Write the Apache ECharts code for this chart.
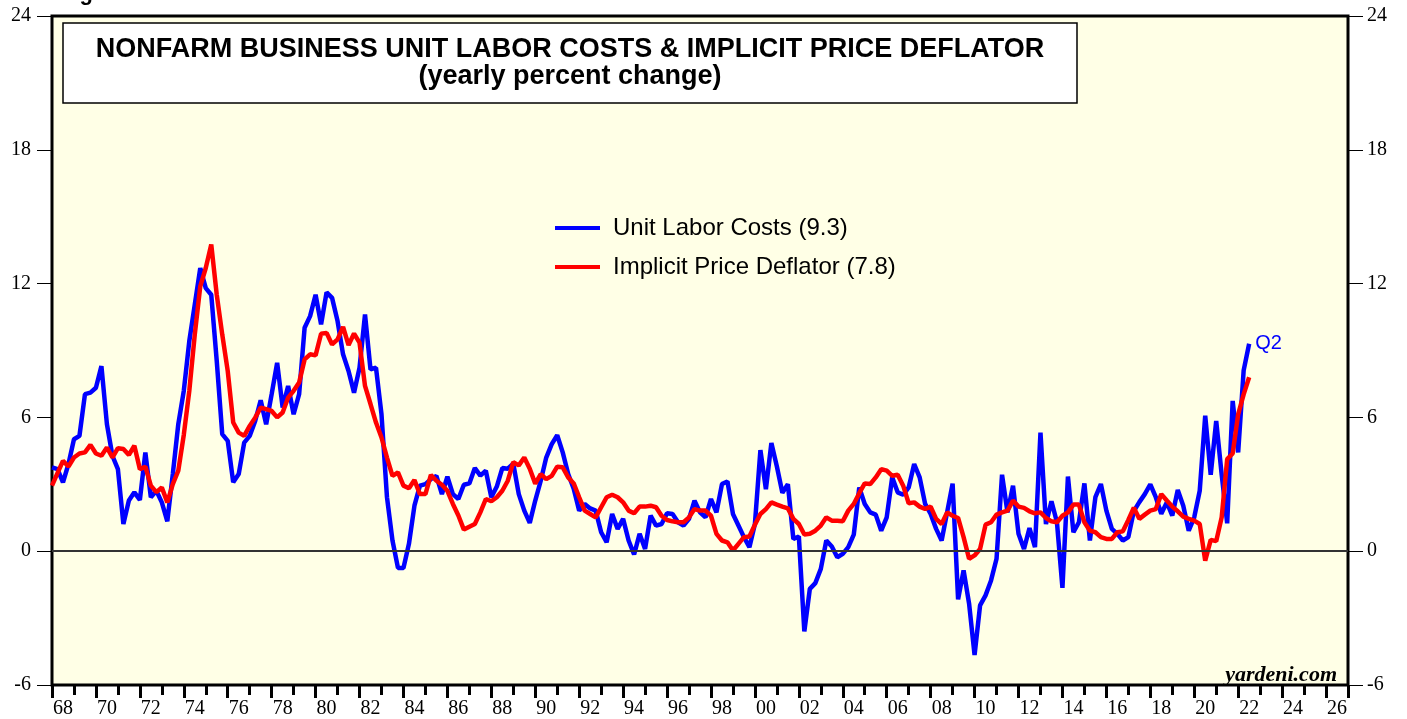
<!DOCTYPE html>
<html>
<head>
<meta charset="utf-8">
<script src="https://cdn.jsdelivr.net/npm/echarts@6/dist/echarts.min.js"></script>
<style>
html,body{margin:0;padding:0;background:#fff;}
#chart{width:1407px;height:719px;}
</style>
</head>
<body>
<div id="chart"></div>
<script>
// Quarterly data, first value = 1967 Q4, last value = 2022 Q2 (plotted at quarter end)
const firstQuarterEnd = 1968.0;
const quarterStep = 0.25;

const unitLaborCosts = [
3.76,3.68,3.09,3.91,5.02,5.17,7.04,7.11,7.33,8.3,
5.7,4.28,3.68,1.22,2.27,2.64,2.3,4.43,2.42,2.71,
2.19,1.34,3.46,5.7,7.19,9.42,11.06,12.7,11.8,11.5,
8.53,5.25,4.95,3.09,3.46,4.87,5.17,5.84,6.77,5.69,
7.04,8.45,6.44,7.41,6.14,7.04,10.02,10.54,11.5,10.17,
11.61,11.36,10.32,8.83,8.08,7.11,8.23,10.61,8.15,8.23,
6.14,2.42,0.48,-0.75,-0.75,0.33,2.04,2.94,3.01,3.23,
3.38,2.56,3.34,2.56,2.34,2.98,3.04,3.73,3.39,3.61,
2.42,2.9,3.73,3.7,3.93,2.56,1.82,1.27,2.27,3.16,
4.2,4.8,5.2,4.43,3.46,2.8,1.82,2.12,1.92,1.82,
0.85,0.4,1.67,1.0,1.45,0.48,-0.15,0.78,0.1,1.6,
1.15,1.22,1.7,1.67,1.3,1.15,1.45,2.27,1.74,1.52,
2.34,1.74,3.01,3.13,1.67,1.15,0.63,0.18,1.22,4.53,
2.78,4.85,3.8,2.62,3.0,0.55,0.66,-3.6,-1.69,-1.43,
-0.79,0.48,0.21,-0.27,-0.12,0.18,0.74,2.86,2.12,1.74,
1.64,0.92,1.52,3.31,2.64,2.53,2.86,3.91,3.31,2.12,
1.67,1.0,0.48,1.74,3.03,-2.16,-0.86,-2.35,-4.66,-2.43,
-1.98,-1.31,-0.34,3.43,1.74,2.94,0.78,0.1,1.04,0.18,
5.32,1.22,2.24,1.3,-1.64,3.35,0.85,1.3,3.04,0.48,
2.42,3.01,1.82,1.0,0.78,0.48,0.63,1.8,2.2,2.56,
3.0,2.42,1.68,2.19,1.6,2.74,2.04,0.92,1.52,2.71,
6.08,3.43,5.84,3.43,1.25,6.74,4.43,8.11,9.3
];

const priceDeflator = [
2.94,3.5,4.05,3.8,4.2,4.38,4.43,4.77,4.38,4.28,
4.65,4.2,4.62,4.58,4.32,4.73,3.68,3.79,2.94,2.65,
2.86,2.19,3.01,3.61,5.22,7.18,9.72,11.88,12.7,13.75,
11.5,9.72,8.08,5.77,5.32,5.17,5.62,5.99,6.44,6.37,
6.29,6.0,6.22,6.89,7.19,7.56,8.6,8.83,8.78,9.75,
9.79,9.27,9.5,10.06,9.24,9.76,9.35,7.41,6.6,5.77,
5.1,4.2,3.38,3.53,2.94,2.82,3.19,2.56,2.56,3.42,
3.16,2.98,2.71,2.12,1.6,0.97,1.1,1.22,1.74,2.34,
2.24,2.42,2.71,3.16,3.99,3.85,4.2,3.7,3.03,3.46,
3.23,3.38,3.79,3.76,3.31,3.04,2.42,1.82,1.67,1.52,
1.97,2.42,2.53,2.42,2.19,1.82,1.7,2.0,2.0,2.04,
1.97,1.59,1.4,1.34,1.3,1.3,1.52,1.89,1.82,1.82,
1.59,0.78,0.48,0.4,0.03,0.33,0.63,0.66,1.19,1.67,
1.89,2.19,2.09,2.0,1.92,1.45,1.22,0.75,0.78,0.92,
1.15,1.52,1.37,1.37,1.34,1.82,2.12,2.6,3.04,3.01,
3.31,3.68,3.61,3.38,3.43,2.94,2.15,2.19,2.0,1.89,
2.0,1.45,1.22,1.74,1.59,1.49,0.63,-0.34,-0.19,0.1,
1.19,1.3,1.64,1.74,1.82,2.27,2.0,1.94,1.79,1.7,
1.74,1.49,1.34,1.3,1.59,1.74,2.09,2.09,1.3,0.92,
0.85,0.63,0.55,0.55,0.85,0.89,1.4,1.95,1.45,1.64,
1.82,1.89,2.56,2.27,2.0,1.79,1.55,1.45,1.37,1.22,
-0.42,0.51,0.45,1.52,4.13,4.38,6.14,7.03,7.8
];

const yearCategories = [];
for (let y = 1968; y <= 2026; y++) yearCategories.push(String(y));

const seriesNames = ['Unit Labor Costs (9.3)', 'Implicit Price Deflator (7.8)'];
const titleLine1 = 'NONFARM BUSINESS UNIT LABOR COSTS & IMPLICIT PRICE DEFLATOR';
const titleLine2 = '(yearly percent change)';
const lastLabel = 'Q2';
const sourceText = 'yardeni.com';

function toPairs(arr) {
  return arr.map((v, i) => [firstQuarterEnd + i * quarterStep, v]);
}

const serif = '"Liberation Serif", "Times New Roman", serif';
const sans = '"Liberation Sans", Arial, sans-serif';

const chart = echarts.init(document.getElementById('chart'), null, {renderer: 'canvas'});

const gridPos = {left: 52, right: 59, top: 16, bottom: 32};

const option = {
  animation: false,
  backgroundColor: '#ffffff',
  grid: Object.assign({show: true, backgroundColor: '#FFFFE6', borderColor: '#000', borderWidth: 3}, gridPos),
  legend: {
    orient: 'vertical',
    left: 555,
    top: 216,
    padding: 0,
    itemWidth: 45,
    itemHeight: 4,
    itemGap: 15,
    textStyle: {fontSize: 24, fontFamily: sans, color: '#000', padding: [0, 0, 0, 8]},
    data: [
      {name: seriesNames[0], icon: 'rect'},
      {name: seriesNames[1], icon: 'rect'}
    ]
  },
  xAxis: [
    {
      type: 'value', min: 1968, max: 2027, show: false
    },
    {
      type: 'category', data: yearCategories, boundaryGap: true, position: 'bottom',
      axisLine: {show: false, onZero: false},
      axisTick: {show: true, interval: 0, length: 10, lineStyle: {color: '#000', width: 3}},
      axisLabel: {
        interval: 1, margin: 14, color: '#000', fontSize: 20, fontFamily: serif,
        formatter: v => v.slice(2)
      },
      splitLine: {show: false}
    },
    {
      type: 'category', data: yearCategories, boundaryGap: true, position: 'bottom',
      axisLine: {show: false, onZero: false},
      axisTick: {show: true, interval: 1, length: 13, lineStyle: {color: '#000', width: 3}},
      axisLabel: {show: false},
      splitLine: {show: false}
    }
  ],
  yAxis: [
    {
      type: 'value', min: -6, max: 24, interval: 6, position: 'left',
      axisLine: {show: false},
      axisTick: {show: true, length: 15, lineStyle: {color: '#000', width: 1}},
      axisLabel: {margin: 21, color: '#000', fontSize: 20, fontFamily: serif},
      splitLine: {show: false}
    },
    {
      type: 'value', min: -6, max: 24, interval: 6, position: 'right',
      axisLine: {show: false},
      axisTick: {show: true, length: 15, lineStyle: {color: '#000', width: 1}},
      axisLabel: {margin: 19, color: '#000', fontSize: 20, fontFamily: serif},
      splitLine: {show: false}
    }
  ],
  series: [
    {
      name: seriesNames[0], type: 'line', xAxisIndex: 0, yAxisIndex: 0,
      data: toPairs(unitLaborCosts), symbol: 'none', z: 3,
      lineStyle: {color: '#0000FF', width: 4.5},
      itemStyle: {color: '#0000FF'},
      endLabel: {show: true, formatter: lastLabel, color: '#0000FF', fontSize: 20, fontFamily: sans, distance: 6},
      markLine: {
        silent: true, symbol: 'none', label: {show: false},
        lineStyle: {color: '#333', width: 2, type: 'solid'},
        data: [{yAxis: 0}]
      }
    },
    {
      name: seriesNames[1], type: 'line', xAxisIndex: 0, yAxisIndex: 0,
      data: toPairs(priceDeflator), symbol: 'none', z: 4,
      lineStyle: {color: '#FF0000', width: 4.5},
      itemStyle: {color: '#FF0000'}
    }
  ],
  graphic: [
    {
      type: 'text', left: 60, top: -17,
      style: {text: 'Figure 1.', font: 'bold 22px ' + sans, fill: '#000'}
    },
    {
      type: 'rect', shape: {x: 63, y: 23, width: 1014, height: 80},
      style: {fill: '#ffffff', stroke: '#000', lineWidth: 1.5}, z: 10
    },
    {
      type: 'text', x: 570, y: 50, z: 11,
      style: {text: titleLine1, font: 'bold 27px ' + sans, fill: '#000', textAlign: 'center', textVerticalAlign: 'middle'}
    },
    {
      type: 'text', x: 570, y: 77, z: 11,
      style: {text: titleLine2, font: 'bold 27px ' + sans, fill: '#000', textAlign: 'center', textVerticalAlign: 'middle'}
    },
    {
      type: 'text', x: 1337, y: 675, z: 11,
      style: {text: sourceText, font: 'italic bold 22px ' + serif, fill: '#000', textAlign: 'right', textVerticalAlign: 'middle'}
    }
  ]
};

chart.setOption(option);
</script>
</body>
</html>
